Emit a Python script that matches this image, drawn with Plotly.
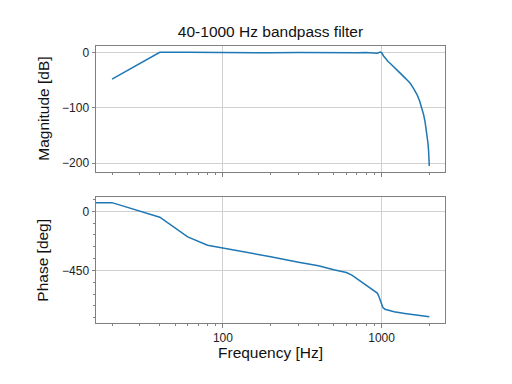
import plotly.graph_objects as go
from plotly.subplots import make_subplots

# ---- data ----
mag_freq = [20, 40, 60, 80, 100, 150, 200, 300, 400, 500, 600, 700, 800, 850,
            900, 940, 980, 1000, 1030, 1060, 1100, 1140, 1220, 1320, 1420, 1520, 1600, 1680,
            1740, 1800, 1840, 1880, 1920, 1960, 1980, 2000]
mag_db = [-48, 0.6, 0.6, 0.3, -0.5, -0.8, -0.3, 0.3, 0.0, -0.8, -0.9, -0.3, 0.3, 0.2,
          -1.0, -1.2, 0.9, 0.2, -6, -11, -16, -20, -29, -38, -47, -56, -66, -77,
          -88, -101, -112, -125, -141, -163, -178, -205]

phase_freq = [0, 20, 40, 60, 80, 100, 150, 200, 300, 400, 500, 560, 600, 650, 700,
              750, 800, 850, 900, 940, 960, 980, 1000, 1020, 1050, 1100, 1200,
              1400, 1600, 1800, 2000]
phase_deg = [66, 66, -45, -195, -258, -278, -318, -346, -387, -414, -445, -456, -466,
             -485, -512, -538, -561, -580, -600, -622, -645, -680, -713, -733, -745,
             -754, -765, -777, -785, -794, -802]

x_major = [100, 1000]
x_minor = [20, 30, 40, 50, 60, 70, 80, 90, 200, 300, 400, 500, 600, 700, 800, 900, 2000]
mag_ticks = [0, -100, -200]
phase_ticks = [0, -450]
phase_minor = [90, -90, -180, -270, -360, -540, -630, -720, -810]

# matplotlib's log scale clips non-positive x to a tiny positive value
phase_x = [f if f > 0 else 1e-300 for f in phase_freq]

FONT = "Liberation Sans"
SPINE = "#808080"
GRID = "#d0d0d0"
BLUE = "#1f77b4"

fig = make_subplots(rows=2, cols=1, shared_xaxes=True)
fig.add_trace(go.Scatter(x=mag_freq, y=mag_db, mode="lines",
                         line=dict(color=BLUE, width=1.5)), row=1, col=1)
fig.add_trace(go.Scatter(x=phase_x, y=phase_deg, mode="lines",
                         line=dict(color=BLUE, width=1.5)), row=2, col=1)

# page body has an 8px margin, so the figure is 16px smaller and offsets shifted
OFF = 8
W, H = 512 - 2 * OFF, 384 - 2 * OFF
L, R, T, B = 96 - OFF, 67 - OFF, 46 - OFF, 61 - OFF

common_x = dict(type="log", range=[1.2, 3.4], showline=True, mirror=True,
                linecolor=SPINE, linewidth=1, ticks="outside", ticklen=3.5,
                tickcolor=SPINE, tickwidth=1, showgrid=True, gridcolor=GRID,
                gridwidth=0.8, zeroline=False, tickvals=x_major,
                ticktext=["100", "1000"],
                minor=dict(tickvals=x_minor, ticks="outside", ticklen=2,
                           tickcolor=SPINE, tickwidth=0.8, showgrid=False))
fig.update_xaxes(**common_x)
fig.update_xaxes(showticklabels=False, row=1, col=1)
fig.update_xaxes(showticklabels=True, row=2, col=1)

common_y = dict(showline=True, mirror=True, linecolor=SPINE, linewidth=1,
                ticks="outside", ticklen=3.5, tickcolor=SPINE, tickwidth=1,
                showgrid=True, gridcolor=GRID, gridwidth=0.8, zeroline=False)
fig.update_yaxes(**common_y)
fig.update_yaxes(range=[-216, 12], tickvals=mag_ticks, domain=[0.5451, 1.0], row=1, col=1)
fig.update_yaxes(range=[-850, 109], tickvals=phase_ticks, domain=[0.0, 0.4549],
                 minor=dict(tickvals=phase_minor, ticks="outside", ticklen=2,
                            tickcolor=SPINE, tickwidth=0.8, showgrid=False),
                 row=2, col=1)

pw = W - L - R
ph = H - T - B
fig.update_layout(
    width=W, height=H,
    margin=dict(l=L, r=R, t=T, b=B, pad=0),
    paper_bgcolor="white", plot_bgcolor="white",
    showlegend=False,
    font=dict(family=FONT, size=12, color="#222222"),
    title=dict(text="40-1000 Hz bandpass filter", x=0.5, xref="paper",
               xanchor="center", y=1 - (32 - OFF) / H, yref="container", yanchor="middle",
               font=dict(family=FONT, size=15.5, color="#111111")),
    annotations=[
        dict(text="Magnitude [dB]", x=(42.7 - 96) / pw, y=0.7725, xref="paper", yref="paper",
             textangle=-90, showarrow=False, xanchor="center", yanchor="middle",
             font=dict(family=FONT, size=15.5, color="#111111")),
        dict(text="Phase [deg]", x=(42.7 - 96) / pw, y=0.2275, xref="paper", yref="paper",
             textangle=-90, showarrow=False, xanchor="center", yanchor="middle",
             font=dict(family=FONT, size=15.5, color="#111111")),
        dict(text="Frequency [Hz]", x=0.5, y=-(353 - 323.3) / ph, xref="paper", yref="paper",
             showarrow=False, xanchor="center", yanchor="middle",
             font=dict(family=FONT, size=15.5, color="#111111")),
    ],
)

fig.write_html("out.html")
